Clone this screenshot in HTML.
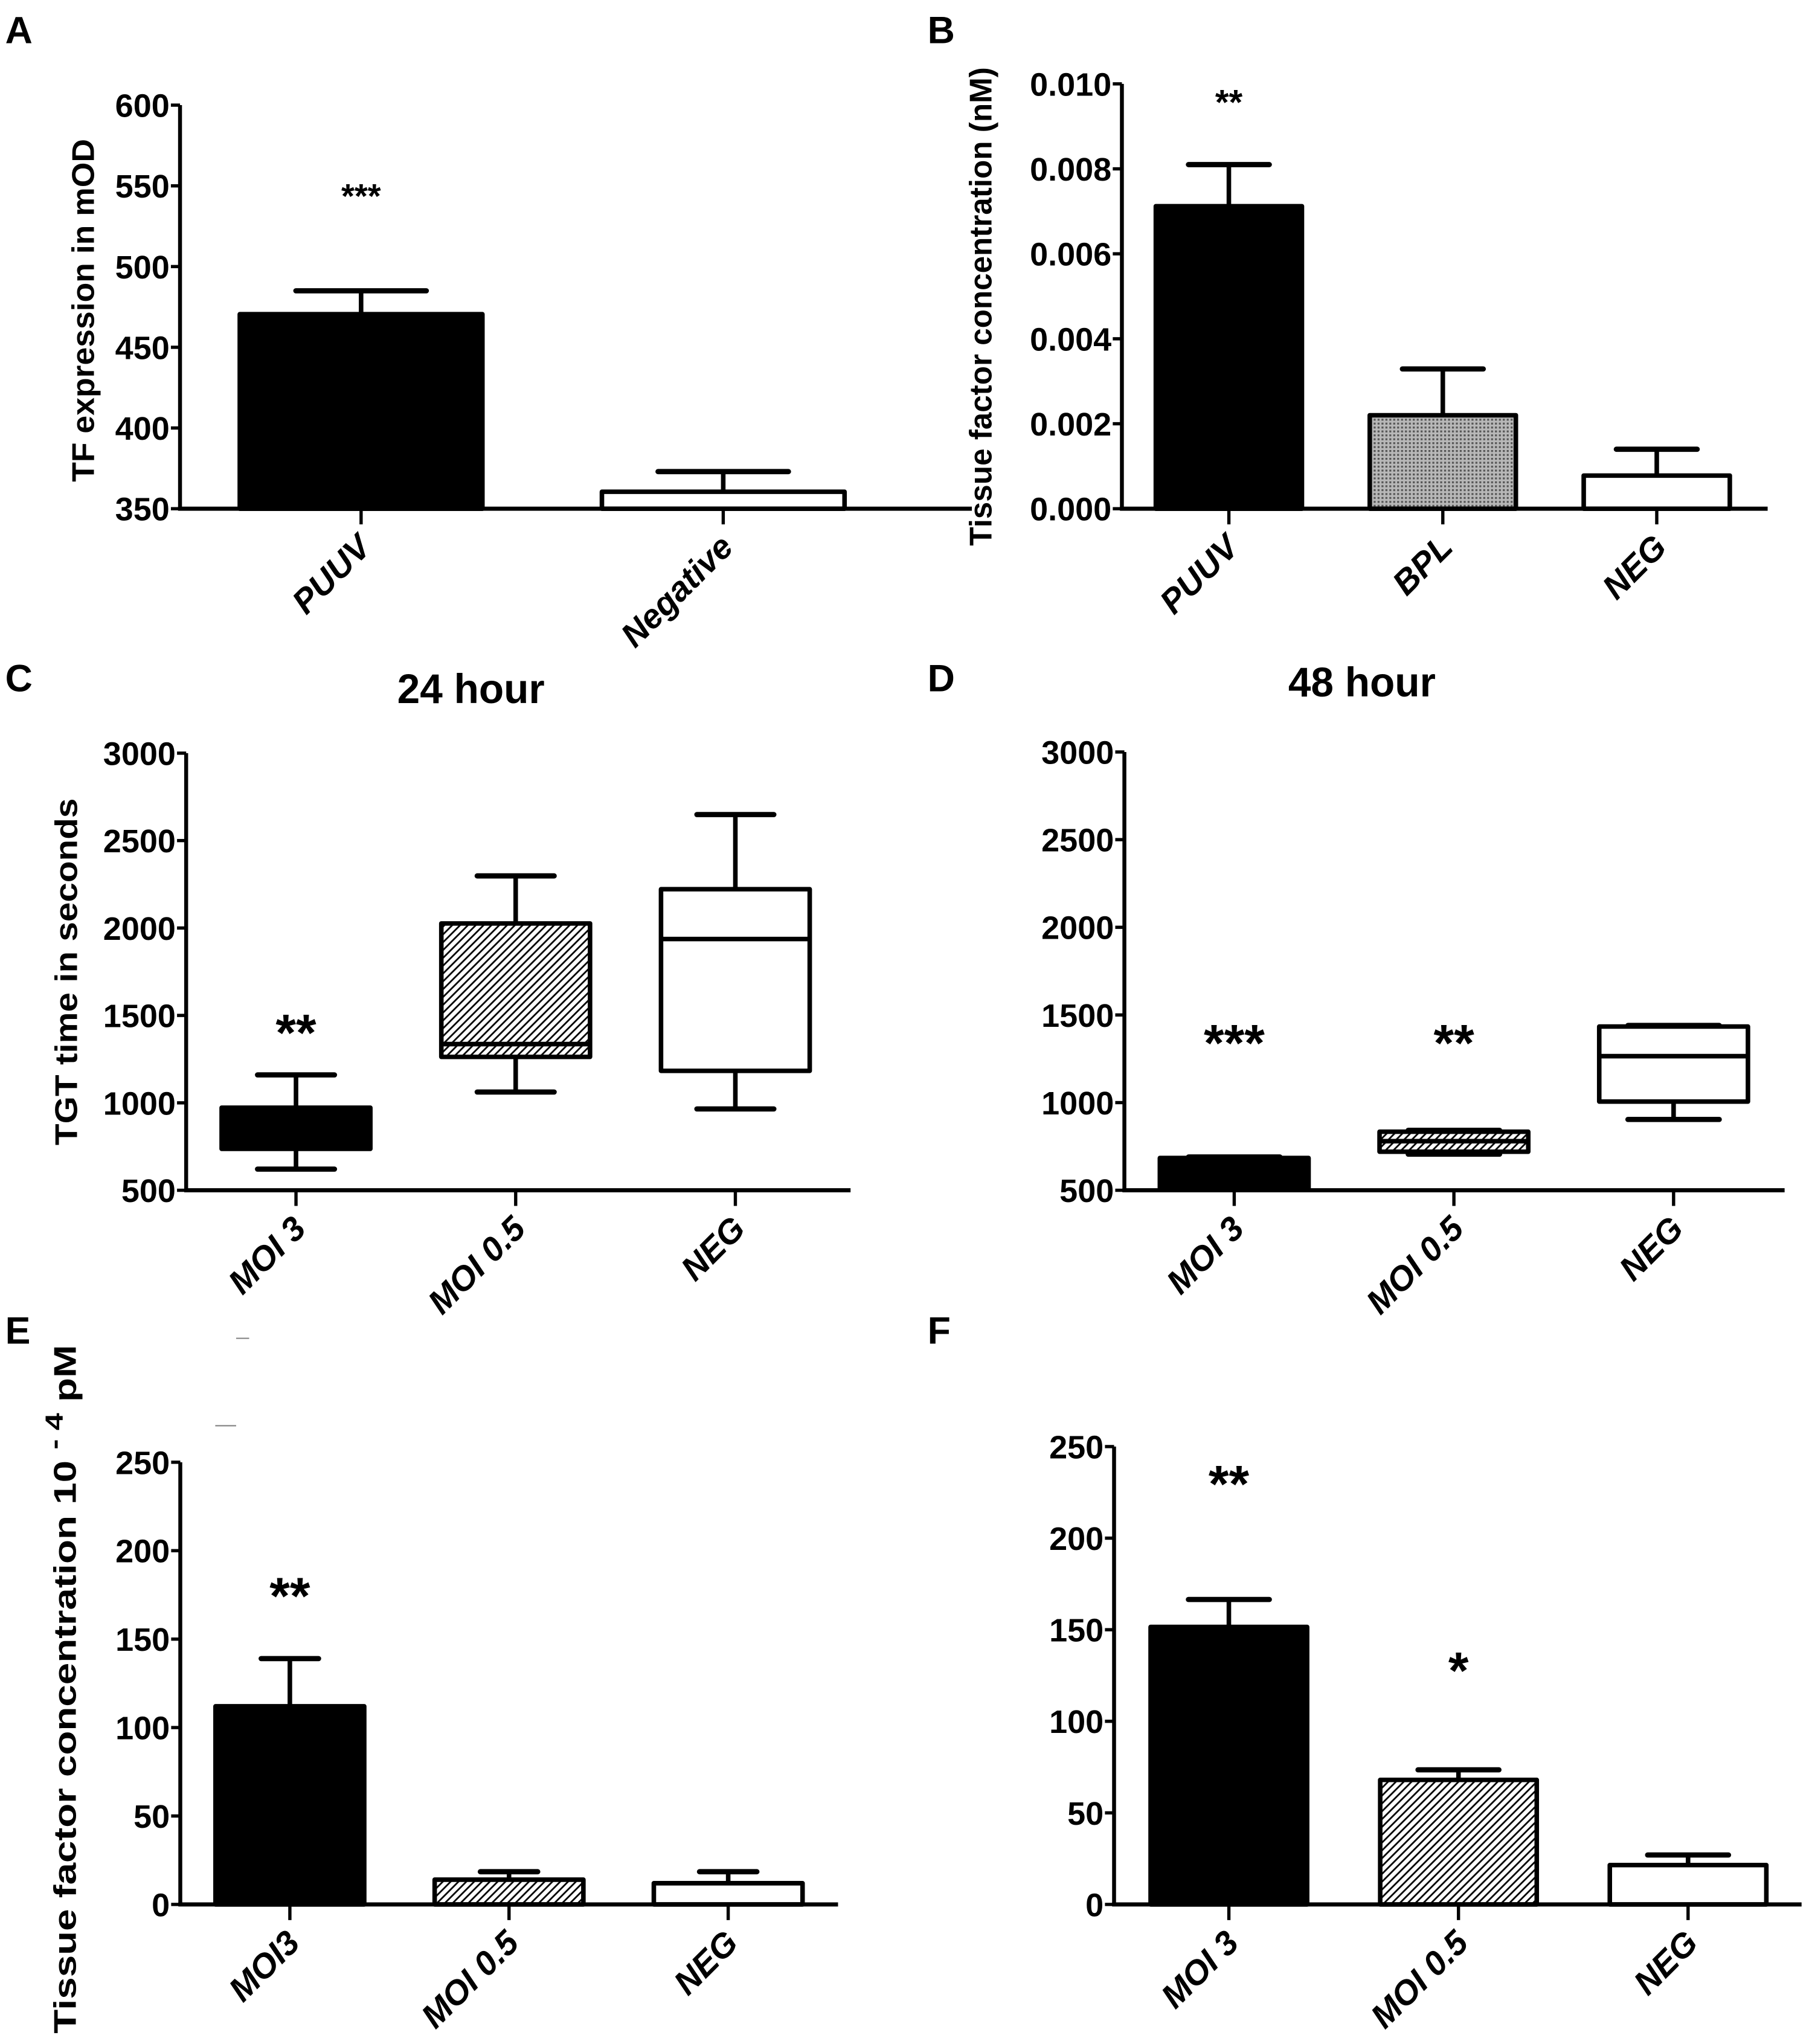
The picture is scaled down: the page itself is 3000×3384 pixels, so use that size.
<!DOCTYPE html>
<html><head><meta charset="utf-8"><title>Figure panels A–F</title>
<style>
html,body{margin:0;padding:0;background:#fff;}
svg{display:block;}
text{font-family:"Liberation Sans",sans-serif;fill:#000;}
.tick{font-family:"Liberation Sans Narrow","Liberation Sans",sans-serif;font-weight:bold;font-size:25px;}
.cat{font-weight:bold;font-style:italic;font-size:26px;}
.ttl{font-weight:bold;font-size:24px;}
.ltr{font-weight:bold;font-size:29px;}
.ptitle{font-family:"Liberation Sans Narrow","Liberation Sans",sans-serif;font-weight:bold;font-size:32px;}
</style></head>
<body>
<svg id="fig" xmlns="http://www.w3.org/2000/svg" width="3000" height="3384" viewBox="0 0 1389 1567" preserveAspectRatio="none">
<defs>
<pattern id="hatch" patternUnits="userSpaceOnUse" width="6" height="6">
<rect width="6" height="6" fill="#fff"/>
<path d="M-1,7 L7,-1 M-3,3 L3,-3 M3,9 L9,3" stroke="#000" stroke-width="1.3"/>
</pattern>
<pattern id="stipple" patternUnits="userSpaceOnUse" width="3" height="3">
<rect width="3" height="3" fill="#b8b8b8"/>
<rect width="1.5" height="1.5" fill="#555"/>
</pattern>
</defs>
<text class="ltr" x="4" y="33">A</text>
<text class="ltr" x="711" y="33">B</text>
<text class="ltr" x="4" y="530">C</text>
<text class="ltr" x="711" y="530">D</text>
<text class="ltr" x="4" y="1030">E</text>
<text class="ltr" x="711" y="1030">F</text>
<text class="ptitle" x="361" y="539" text-anchor="middle" textLength="113" lengthAdjust="spacingAndGlyphs">24 hour</text>
<text class="ptitle" x="1044" y="534" text-anchor="middle" textLength="113" lengthAdjust="spacingAndGlyphs">48 hour</text>
<text class="ttl" transform="translate(72,238) rotate(-90)" text-anchor="middle" textLength="263" lengthAdjust="spacingAndGlyphs">TF expression in mOD</text>
<text class="ttl" transform="translate(760,235) rotate(-90)" text-anchor="middle" textLength="367" lengthAdjust="spacingAndGlyphs">Tissue factor concentration (nM)</text>
<text class="ttl" transform="translate(59,745) rotate(-90)" text-anchor="middle" textLength="266" lengthAdjust="spacingAndGlyphs">TGT time in seconds</text>
<text class="ttl" transform="translate(58,1295) rotate(-90)" text-anchor="middle" font-size="26" textLength="528" lengthAdjust="spacingAndGlyphs">Tissue factor concentration 10 <tspan dy="-10" font-size="19">- 4</tspan><tspan dy="10"> pM</tspan></text>
<line x1="181" y1="1026" x2="191" y2="1026" stroke="#888" stroke-width="1"/>
<line x1="165" y1="1093" x2="181" y2="1093" stroke="#888" stroke-width="1"/>
</svg>
<script>
// ---- data ----
const catsA = ["PUUV","Negative"];
const valsA = [470.5, 360.5];
const errsA = [485, 373];
const catsB = ["PUUV","BPL","NEG"];
const valsB = [0.00712, 0.0022, 0.00078];
const errsB = [0.0081, 0.00329, 0.0014];
const catsC = ["MOI 3","MOI 0.5","NEG"];
const minC = [621, 1062, 965];
const q1C = [737, 1263, 1183];
const medC = [850, 1336, 1937];
const q3C = [972, 2026, 2222];
const maxC = [1160, 2298, 2649];
const catsD = ["MOI 3","MOI 0.5","NEG"];
const minD = [505, 706, 904];
const q1D = [514, 720, 1006];
const medD = [600, 780, 1265];
const q3D = [684, 834, 1434];
const maxD = [690, 842, 1440];
const catsE = ["MOI3","MOI 0.5","NEG"];
const valsE = [112, 14, 12];
const errsE = [139, 18.5, 18.5];
const catsF = ["MOI 3","MOI 0.5","NEG"];
const valsF = [151.5, 68, 21.5];
const errsF = [166.5, 73.5, 27];
const ticksA = [350, 400, 450, 500, 550, 600];
const tickLabelsB = ["0.000","0.002","0.004","0.006","0.008","0.010"];
const ticksB = [0, 0.002, 0.004, 0.006, 0.008, 0.010];
const ticksCD = [500, 1000, 1500, 2000, 2500, 3000];
const ticksEF = [0, 50, 100, 150, 200, 250];
const fillsA = ["#000", "#fff"];
const fillsB = ["#000", "url(#stipple)", "#fff"];
const fills3 = ["#000", "url(#hatch)", "#fff"];

const NS = "http://www.w3.org/2000/svg";
const svg = document.getElementById("fig");
function mk(tag, attrs, parent) {
  const e = document.createElementNS(NS, tag);
  for (const k in attrs) e.setAttribute(k, attrs[k]);
  (parent || svg).appendChild(e);
  return e;
}

function makeAxes(p, name, cats, ticks, labels) {
  const g = mk("g", {});
  
  
  const y = v => p.yBot - (v - p.vMin) / (p.vMax - p.vMin) * (p.yBot - p.yTop);
  const cx = i => p.x0 + p.half * (2 * i + 1);
  const ya = mk("line", {x1: p.x0, y1: p.yTop, x2: p.x0, y2: p.yBot, stroke: "#000", "stroke-width": 3}, g);
  
  
  const xa = mk("line", {x1: p.x0 - 1.5, y1: p.yBot, x2: p.xEnd, y2: p.yBot, stroke: "#000", "stroke-width": 3.2}, g);
  
  
  ticks.forEach((t, i) => {
    const tl = mk("line", {x1: p.x0 - 7, y1: y(t), x2: p.x0, y2: y(t), stroke: "#000", "stroke-width": 2.5}, g);
    
    
    const tx = mk("text", {x: p.x0 - 8, y: y(t) + 9, "text-anchor": "end", class: "tick"}, g);
    
    
    tx.textContent = labels ? labels[i] : String(t);
  });
  cats.forEach((c, i) => {
    const tk = mk("line", {x1: cx(i), y1: p.yBot, x2: cx(i), y2: p.yBot + 12, stroke: "#000", "stroke-width": 2.5}, g);
    
    
    const ex = cx(i) + 9, ey = p.yBot + 31;
    const lb = mk("text", {x: ex, y: ey, "text-anchor": "end", class: "cat", transform: "rotate(-45 " + ex + " " + ey + ")"}, g);
    
    
    lb.textContent = c;
  });
  return {y, cx};
}

function barChart(p, name, cats, vals, errs, fills, ticks, labels) {
  const ax = makeAxes(p, name, cats, ticks, labels);
  cats.forEach((c, i) => {
    const x = ax.cx(i);
    const top = ax.y(vals[i]);
    const eb = mk("line", {x1: x, y1: top, x2: x, y2: ax.y(errs[i]), stroke: "#000", "stroke-width": 3.5});
    
    
    const cap = mk("line", {x1: x - p.cap / 2, y1: ax.y(errs[i]), x2: x + p.cap / 2, y2: ax.y(errs[i]), stroke: "#000", "stroke-width": 4, "stroke-linecap": "round"});
    
    
    const r = mk("rect", {x: x - p.bw / 2, y: top, width: p.bw, height: Math.max(0, p.yBot - top), fill: fills[i], stroke: "#000", "stroke-width": 3.5, "stroke-linejoin": "round"});
    
    
  });
  return ax;
}

function boxChart(p, name, cats, mins, q1s, meds, q3s, maxs, fills, ticks) {
  const ax = makeAxes(p, name, cats, ticks);
  cats.forEach((c, i) => {
    const x = ax.cx(i);
    const w1 = mk("line", {x1: x, y1: ax.y(maxs[i]), x2: x, y2: ax.y(mins[i]), stroke: "#000", "stroke-width": 3.5});
    
    
    [mins[i], maxs[i]].forEach(v => {
      const cp = mk("line", {x1: x - p.cap / 2, y1: ax.y(v), x2: x + p.cap / 2, y2: ax.y(v), stroke: "#000", "stroke-width": 4, "stroke-linecap": "round"});
      
      
    });
    const r = mk("rect", {x: x - p.bw / 2, y: ax.y(q3s[i]), width: p.bw, height: ax.y(q1s[i]) - ax.y(q3s[i]), fill: fills[i], stroke: "#000", "stroke-width": 3.5, "stroke-linejoin": "round"});
    
    
    const md = mk("line", {x1: x - p.bw / 2, y1: ax.y(meds[i]), x2: x + p.bw / 2, y2: ax.y(meds[i]), stroke: "#000", "stroke-width": 3.5});
    
    
  });
  return ax;
}

function star(x, y, s, fs, name) {
  const t = mk("text", {x: x, y: y + fs * 0.36, "text-anchor": "middle", "font-size": fs, "font-weight": "bold"});
  
  
  t.textContent = s;
}

const pA = {x0: 138, xEnd: 745, yTop: 80.6, yBot: 390, vMin: 350, vMax: 600, half: 138.8, bw: 186, cap: 100};
const axA = barChart(pA, "panel-a", catsA, valsA, errsA, fillsA, ticksA);
star(axA.cx(0), 150, "***", 26, "significance-a-puuv");

const pB = {x0: 860, xEnd: 1355, yTop: 64.3, yBot: 390, vMin: 0, vMax: 0.010, half: 82, bw: 112, cap: 62};
const axB = barChart(pB, "panel-b", catsB, valsB, errsB, fillsB, ticksB, tickLabelsB);
star(axB.cx(0), 78, "**", 27, "significance-b-puuv");

const pC = {x0: 142.7, xEnd: 652, yTop: 577.4, yBot: 912.5, vMin: 500, vMax: 3000, half: 84.2, bw: 114, cap: 59};
const axC = boxChart(pC, "panel-c", catsC, minC, q1C, medC, q3C, maxC, fills3, ticksCD);
star(axC.cx(0), 791, "**", 40, "significance-c-moi3");

const pD = {x0: 861.9, xEnd: 1368, yTop: 576.5, yBot: 912.5, vMin: 500, vMax: 3000, half: 84.2, bw: 114, cap: 70};
const axD = boxChart(pD, "panel-d", catsD, minD, q1D, medD, q3D, maxD, fills3, ticksCD);
star(axD.cx(0), 799, "***", 40, "significance-d-moi3");
star(axD.cx(1), 799, "**", 40, "significance-d-moi05");

const pE = {x0: 138.2, xEnd: 642.4, yTop: 1121, yBot: 1460, vMin: 0, vMax: 250, half: 84, bw: 114, cap: 44};
const axE = barChart(pE, "panel-e", catsE, valsE, errsE, fills3, ticksEF);
star(axE.cx(0), 1223, "**", 40, "significance-e-moi3");

const pF = {x0: 854, xEnd: 1381, yTop: 1109, yBot: 1460, vMin: 0, vMax: 250, half: 88, bw: 120, cap: 62};
const axF = barChart(pF, "panel-f", catsF, valsF, errsF, fills3, ticksEF);
star(axF.cx(0), 1137, "**", 40, "significance-f-moi3");
star(axF.cx(1), 1280, "*", 40, "significance-f-moi05");
</script>
</body></html>
